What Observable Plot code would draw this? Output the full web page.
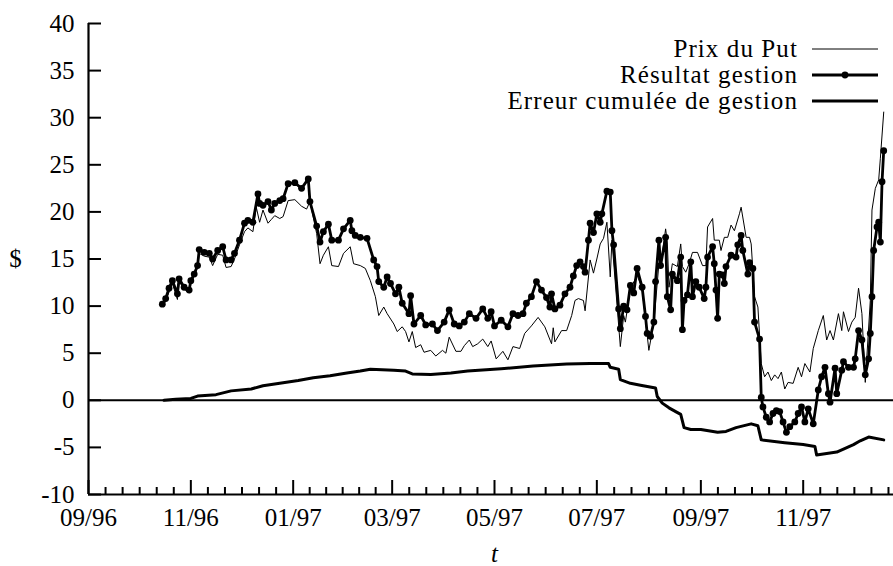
<!DOCTYPE html>
<html>
<head>
<meta charset="utf-8">
<script src="https://cdn.jsdelivr.net/npm/d3@7"></script>
<script src="https://cdn.jsdelivr.net/npm/@observablehq/plot@0.6"></script>
<style>
  html, body { margin: 0; padding: 0; background: #fff; overflow: hidden; }
  #wrap { position: relative; width: 900px; height: 566px; overflow: hidden; }
  #wrap svg { max-width: none !important; }
  #wrap svg.chart text { font-family: 'Liberation Serif', 'DejaVu Serif', serif !important; font-size: 25px !important; }
  #wrap svg.legend { position: absolute; left: 0; top: 0; pointer-events: none; }
</style>
</head>
<body>
<div id="wrap"></div>
<script>
// ---- Data (days counted from 1996-09-01) ----
const startDate = "1996-09-01";
const endDay = 484;

const resultDays = [
  44,46,48,50,53,54,57,60,61,63,65,66,69,72,74,77,80,82,85,87,
  90,93,95,98,101,102,104,107,109,111,114,116,119,123,127,131,132,136,138,140,
  143,145,149,152,156,157,159,162,166,170,172,173,176,178,180,183,185,187,191,192,
  194,198,201,205,208,212,215,218,221,224,227,231,235,238,240,242,246,250,253,256,
  259,261,264,267,270,273,275,276,278,281,284,287,289,291,293,295,296,298,299,301,
  303,305,306,309,311,312,313,316,317,319,321,323,325,327,330,332,333,335,337,338,
  340,341,344,345,347,348,351,353,354,355,357,359,360,362,364,367,368,369,372,373,
  374,375,376,378,379,380,383,386,387,389,390,393,394,396,397,400,401,402,404,406,
  408,410,412,414,416,418,421,423,425,427,429,432,435,437,439,441,442,445,446,449,
  450,453,456,457,459,461,463,465,466,467,468,470,471,472,473,474
];
const resultValues = [
  10.2,10.8,11.9,12.7,11.3,12.9,12.0,11.7,12.7,13.4,14.3,16.0,15.7,15.6,15.0,15.9,16.3,14.9,14.9,15.6,
  17.0,18.8,19.1,18.9,21.9,20.9,20.7,21.1,20.2,20.9,21.2,21.4,23.0,23.1,22.5,23.5,21.1,18.5,16.8,17.9,
  18.7,17.0,17.0,18.2,19.1,18.0,17.5,17.3,17.2,14.9,14.2,12.6,12.0,13.1,12.4,11.3,12.0,10.3,9.2,11.1,
  8.1,9.0,8.0,8.1,7.4,8.3,9.6,8.1,7.9,8.3,9.2,8.7,9.7,8.7,9.4,7.9,8.5,7.8,9.2,9.0,
  9.2,10.3,11.0,12.6,11.7,10.9,9.9,11.3,9.7,10.1,11.3,12.0,13.2,14.3,14.7,14.2,13.6,17.0,18.8,17.8,
  19.8,18.9,19.8,22.2,22.1,18.0,16.5,9.7,7.6,10.0,9.6,12.2,11.4,14.0,12.0,8.9,7.1,6.8,8.3,12.6,
  17.0,14.3,17.3,11.0,9.6,13.4,12.7,15.2,7.5,10.6,11.2,14.7,11.0,12.6,12.0,10.8,12.0,15.2,16.3,14.5,
  11.7,8.7,13.4,13.3,12.4,14.2,15.4,15.2,16.5,17.5,15.9,13.4,14.6,14.0,8.3,6.5,0.3,-0.7,-1.8,-2.3,
  -1.4,-1.1,-1.2,-2.3,-3.4,-2.8,-2.3,-1.4,-0.7,-2.3,-0.9,-2.5,1.1,2.5,3.5,0.7,-0.2,3.4,0.7,3.2,
  4.1,3.5,3.5,4.4,7.4,6.4,2.7,4.4,7.1,11.0,15.9,18.4,18.9,16.8,23.2,26.5
];

const putDays = [
  44,46,48,50,53,54,57,60,61,63,65,66,69,72,74,77,80,82,85,87,
  90,93,95,98,100,102,104,107,109,111,114,116,119,123,127,130,132,136,138,140,
  143,145,149,152,156,158,162,165,168,171,173,176,178,182,184,187,189,191,193,195,
  198,200,204,207,211,213,215,219,222,224,227,229,232,235,238,240,243,247,250,253,
  257,260,264,268,272,276,277,278,282,285,288,290,292,295,296,299,301,303,305,307,
  309,311,312,317,319,320,323,327,330,334,337,340,342,344,345,346,348,351,353,354,
  356,358,360,363,366,368,369,372,373,376,377,379,381,383,385,388,389,392,394,395,
  397,399,401,403,405,407,409,411,413,415,417,420,423,425,427,430,432,435,438,440,
  442,444,447,449,450,453,455,457,459,461,463,466,467,469,471,472,474
];
const putValues = [
  10.0,10.5,11.5,12.4,10.7,12.6,11.8,11.4,12.4,13.2,14.1,15.6,15.3,15.2,14.3,15.5,15.4,14.1,14.2,15.0,
  16.5,17.9,18.3,17.9,20.5,18.9,20.2,18.8,19.2,19.6,19.3,19.5,21.2,21.3,20.6,20.3,21.1,17.7,14.5,15.4,
  16.3,14.3,14.2,15.6,16.3,14.5,14.3,14.0,12.7,11.0,9.0,9.9,9.2,8.1,7.3,7.8,7.3,6.2,7.3,5.6,
  5.9,5.1,5.3,4.7,5.3,5.0,6.7,5.2,5.2,5.8,6.4,5.7,6.0,6.5,5.7,6.3,4.4,5.2,4.3,5.7,
  5.5,7.1,7.9,8.8,7.8,6.0,7.7,6.2,7.4,7.4,9.0,10.6,10.8,10.6,9.5,14.9,13.5,15.0,16.6,17.2,
  18.9,13.1,17.0,5.7,9.0,8.3,11.8,13.3,11.8,5.3,8.3,14.5,15.5,18.2,16.8,12.0,14.5,14.2,16.6,14.2,
  13.6,14.5,15.7,15.7,14.3,14.3,18.4,19.3,17.0,17.0,15.9,17.3,17.3,18.6,18.0,19.8,20.5,17.3,17.3,16.6,
  11.0,9.9,3.9,2.5,3.0,2.1,2.7,2.3,3.0,1.2,1.9,1.8,3.5,2.5,3.9,3.0,5.5,7.4,9.0,6.4,
  7.4,6.4,9.2,7.4,9.4,7.3,8.3,8.8,11.9,9.2,1.9,10.6,20.2,22.5,23.4,25.7,30.6
];

const errDays = [
  45,52,61,65,76,85,97,104,114,125,134,144,154,162,168,182,189,193,204,216,
  226,246,265,285,299,310,311,316,317,323,329,338,339,342,346,350,353,355,359,365,
  375,380,386,395,399,401,415,426,433,434,446,456,460,465,474
];
const errValues = [
  0,0.1,0.2,0.45,0.6,1.0,1.2,1.55,1.8,2.1,2.4,2.6,2.9,3.1,3.3,3.2,3.1,2.8,2.75,2.9,
  3.1,3.35,3.65,3.85,3.9,3.9,3.5,3.3,2.2,1.8,1.6,1.3,0.4,-0.3,-0.8,-1.2,-1.5,-2.9,-3.1,-3.1,
  -3.4,-3.3,-2.9,-2.5,-2.7,-4.2,-4.5,-4.7,-4.9,-5.8,-5.5,-4.7,-4.3,-3.9,-4.2
];

const yTickValues = [-10, -5, 0, 5, 10, 15, 20, 25, 30, 35, 40];
const xTickDates = ["1996-09-01","1996-11-01","1997-01-01","1997-03-01","1997-05-01","1997-07-01","1997-09-01","1997-11-01","1998-01-01"];
const legendLabels = ["Prix du Put", "Résultat gestion", "Erreur cumulée de gestion"];
const yLabel = "$";
const xLabel = "t";

// ---- Build ----
const t0 = new Date(startDate + "T00:00:00Z");
const day = d => new Date(t0.getTime() + d * 86400000);
const toRows = (days, vals) => days.map((d, i) => ({date: day(d), value: vals[i]}));
const result = toRows(resultDays, resultValues);
const put = toRows(putDays, putValues);
const err = toRows(errDays, errValues);

const xStart = day(0), xEnd = day(endDay);
const majors = xTickDates.map(s => new Date(s + "T00:00:00Z"));
const minors = [];
for (let i = 0; i < majors.length - 1; i++) {
  const a = majors[i].getTime(), b = majors[i + 1].getTime();
  for (let k = 1; k < 6; k++) minors.push(new Date(a + (b - a) * k / 6));
}
const inDomain = d => d >= xStart && d <= xEnd;

const font = "'Liberation Serif', 'DejaVu Serif', serif";

const chart = Plot.plot({
  width: 900,
  height: 566,
  marginLeft: 88,
  marginRight: 0,
  marginTop: 23,
  marginBottom: 72,
  style: {fontFamily: font, fontSize: "25px", color: "black", background: "white"},
  x: {type: "utc", domain: [xStart, xEnd], label: null},
  y: {domain: [-10, 40], label: null},
  marks: [
    Plot.axisY(yTickValues, {tickSize: -13, tickPadding: 27, strokeWidth: 2, tickFormat: d => String(d), label: null}),
    Plot.axisX(majors.filter(inDomain), {tickSize: -14, tickPadding: 28, strokeWidth: 2, tickFormat: "%m/%y", label: null}),
    Plot.axisX(minors.filter(inDomain), {tickSize: -7, strokeWidth: 2, tickFormat: () => "", label: null}),
    Plot.ruleX([xStart], {strokeWidth: 2.2}),
    Plot.ruleY([-10], {strokeWidth: 2.2}),
    Plot.ruleY([0], {strokeWidth: 2}),
    Plot.line(put, {x: "date", y: "value", stroke: "black", strokeWidth: 1}),
    Plot.line(result, {x: "date", y: "value", stroke: "black", strokeWidth: 2.8}),
    Plot.dot(result, {x: "date", y: "value", r: 3.4, fill: "black", stroke: "none"}),
    Plot.line(err, {x: "date", y: "value", stroke: "black", strokeWidth: 3}),
    Plot.text([yLabel], {frameAnchor: "left", dx: -73, textAnchor: "middle", lineAnchor: "middle"}),
    Plot.text([xLabel], {frameAnchor: "bottom", dy: 59, textAnchor: "middle", lineAnchor: "middle", fontStyle: "italic"})
  ]
});
chart.classList.add("chart");

const wrap = document.getElementById("wrap");
wrap.appendChild(chart);

// ---- Legend (top right, inside the plot area) ----
const ns = "http://www.w3.org/2000/svg";
const leg = document.createElementNS(ns, "svg");
leg.setAttribute("class", "legend");
leg.setAttribute("width", 900);
leg.setAttribute("height", 566);
const rowY = [49, 75, 101];
const styles = [{w: 1, dot: false}, {w: 2.8, dot: true}, {w: 3, dot: false}];
legendLabels.forEach((lab, i) => {
  const y = rowY[i];
  const t = document.createElementNS(ns, "text");
  t.setAttribute("x", 798);
  t.setAttribute("y", y + 8);
  t.setAttribute("text-anchor", "end");
  t.setAttribute("font-family", font);
  t.setAttribute("font-size", 25);
  t.setAttribute("letter-spacing", "1.1");
  t.textContent = lab;
  leg.appendChild(t);
  const l = document.createElementNS(ns, "line");
  l.setAttribute("x1", 812); l.setAttribute("x2", 878);
  l.setAttribute("y1", y); l.setAttribute("y2", y);
  l.setAttribute("stroke", "black");
  l.setAttribute("stroke-width", styles[i].w);
  leg.appendChild(l);
  if (styles[i].dot) {
    const c = document.createElementNS(ns, "circle");
    c.setAttribute("cx", 845); c.setAttribute("cy", y); c.setAttribute("r", 3.4);
    leg.appendChild(c);
  }
});
wrap.appendChild(leg);
</script>
</body>
</html>
